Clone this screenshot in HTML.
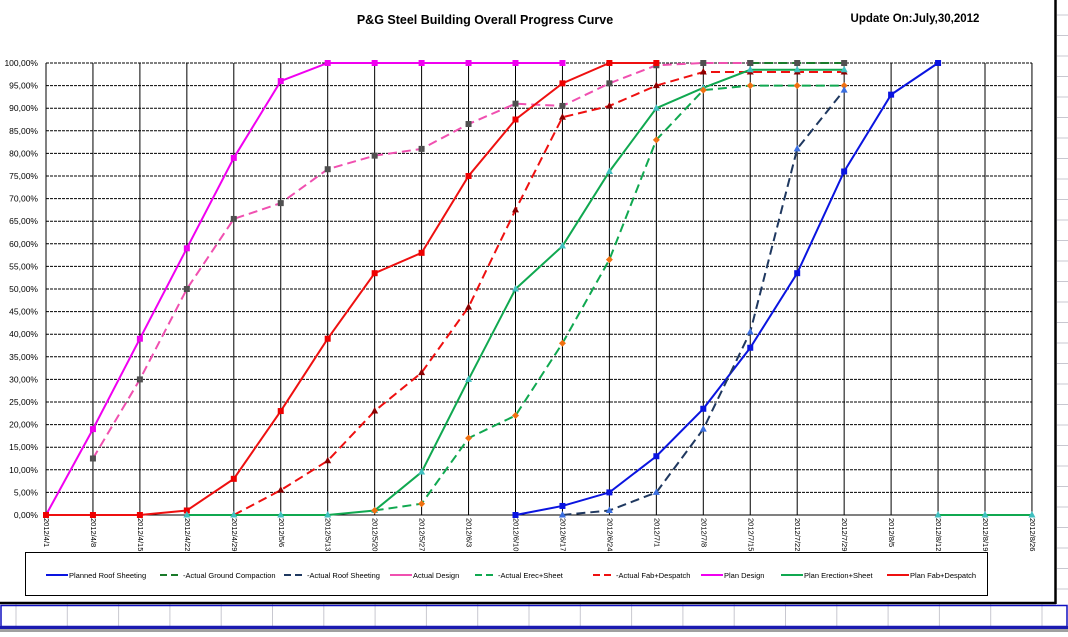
<!DOCTYPE html>
<html><head><meta charset="utf-8"><style>
body{margin:0;width:1068px;height:632px;overflow:hidden;background:#fff;font-family:"Liberation Sans",sans-serif;}
</style></head><body>
<svg id="s" width="1068" height="632" xmlns="http://www.w3.org/2000/svg" font-family="Liberation Sans, sans-serif"></svg>
<script>
const s=document.getElementById('s');let h='';
h+='<rect x="0" y="0" width="1068" height="632" fill="#fff"/>';
for(let y=15;y<605;y+=20.5)h+=`<line x1="1057" y1="${y}" x2="1068" y2="${y}" stroke="#c8c8d0"/>`;
for(let x=16;x<1068;x+=51.3)h+=`<line x1="${x}" y1="604" x2="${x}" y2="626" stroke="#c8c8d0"/>`;
h+='<rect x="1" y="605.5" width="1066" height="21" fill="none" stroke="#1010c0" stroke-width="1.5"/>';
h+='<rect x="0" y="626" width="1068" height="3" fill="#1a1ab0"/><rect x="0" y="629" width="1068" height="3" fill="#a0a0a0"/>';
h+='<rect x="0" y="0" width="1055" height="603" fill="#fff"/>';
h+='<line x1="1055.5" y1="0" x2="1055.5" y2="604" stroke="#000" stroke-width="2.5"/><line x1="0" y1="603" x2="1056" y2="603" stroke="#000" stroke-width="2.5"/>';
h+='<text x="485" y="24" font-size="12.5" font-weight="bold" text-anchor="middle">P&amp;G Steel Building Overall Progress Curve</text>';
h+='<text x="915" y="22" font-size="11.5" font-weight="bold" text-anchor="middle">Update On:July,30,2012</text>';
const X=i=>46+46.95*i,Y=v=>515-v*4.52;
for(let k=0;k<=20;k++){const y=Y(k*5);h+=`<line x1="46" y1="${y}" x2="1032" y2="${y}" stroke="#000" stroke-dasharray="${k==0?'':'3,1'}"/>`;
h+=`<text x="38" y="${y+3}" font-size="8.5" text-anchor="end">${(k*5).toFixed(2).replace('.',',')}%</text>`;}
const d=['2012/4/1','2012/4/8','2012/4/15','2012/4/22','2012/4/29','2012/5/6','2012/5/13','2012/5/20','2012/5/27','2012/6/3','2012/6/10','2012/6/17','2012/6/24','2012/7/1','2012/7/8','2012/7/15','2012/7/22','2012/7/29','2012/8/5','2012/8/12','2012/8/19','2012/8/26'];
d.forEach((t,i)=>{const x=X(i);h+=`<line x1="${x}" y1="63" x2="${x}" y2="515" stroke="#000"/>`;
h+=`<text transform="translate(${x-2},518) rotate(90)" font-size="7.5">${t}</text>`;});
function ser(start,vals,col,dash,mk,mc,w){let p=vals.map((v,j)=>X(start+j)+','+Y(v)).join(' ');
h+=`<polyline points="${p}" fill="none" stroke="${col}" stroke-width="${w||2}" ${dash?'stroke-dasharray="9,5"':''}/>`;
vals.forEach((v,j)=>{const x=X(start+j),y=Y(v);
if(mk=='s')h+=`<rect x="${x-3}" y="${y-3}" width="6" height="6" fill="${mc}"/>`;
else if(mk=='t')h+=`<polygon points="${x},${y-4} ${x+3.5},${y+2.5} ${x-3.5},${y+2.5}" fill="${mc}"/>`;
else if(mk=='d')h+=`<polygon points="${x},${y-3.5} ${x+3.5},${y} ${x},${y+3.5} ${x-3.5},${y}" fill="${mc}"/>`;});}
ser(15,[100,100,100],'#1a7a2a',1,'s','#505050');
ser(1,[12.5,30,50,65.5,69,76.5,79.5,81,86.5,91,90.5,95.5,99.5,100,100],'#f050b0',1,'s','#505050');
ser(0,[0,19,39,59,79,96,100,100,100,100,100,100],'#f000f0',0,'s','#f000f0');
ser(0,[0,0,0,1,8,23,39,53.5,58,75,87.5,95.5,100,100],'#ee1010',0,'s','#ee0000');
ser(4,[0,5.5,12,23,31.5,46,67.5,88,90.5,95,98,98,98,98],'#ee1010',1,'t','#8b0000');
ser(3,[0,0,0,0,1,9.5,30,50,59.5,76,90,94.5,98.5,98.5,98.5],'#10a850',0,'t','#40c0c0');
ser(19,[0,0,0],'#10a850',0,'t','#40c0c0');
ser(7,[1,2.5,17,22,38,56.5,83,94,95,95,95],'#10a850',1,'d','#f07010');
ser(10,[0,2,5,13,23.5,37,53.5,76,93,100],'#0a14e0',0,'s','#0a14e0');
ser(11,[0,1,5,19,40.5,81,94],'#1f3860',1,'t','#3a6ee0');
h+='<rect x="25.5" y="552.5" width="962" height="43" fill="#fff" stroke="#000"/>';
const L=[[46,'Planned Roof Sheeting','#0a14e0',0],[160,'Actual Ground Compaction','#1a7a2a',1],[284,'Actual Roof Sheeting','#1f3860',1],[390,'  Actual Design','#f050b0',0],[475,'Actual Erec+Sheet','#10a850',1],[593,'Actual Fab+Despatch','#ee1010',1],[701,'Plan Design','#f000f0',0],[781,'Plan Erection+Sheet','#10a850',0],[887,'Plan Fab+Despatch','#ee1010',0]];
L.forEach(([x,t,c,ds])=>{h+=`<line x1="${x}" y1="575" x2="${x+22}" y2="575" stroke="${c}" stroke-width="2" ${ds?'stroke-dasharray="7,4"':''}/>`;
h+=`<text x="${x+23}" y="578" font-size="7.5">${ds?'-':''}${t}</text>`;});
s.innerHTML=h;
</script>
</body></html>
